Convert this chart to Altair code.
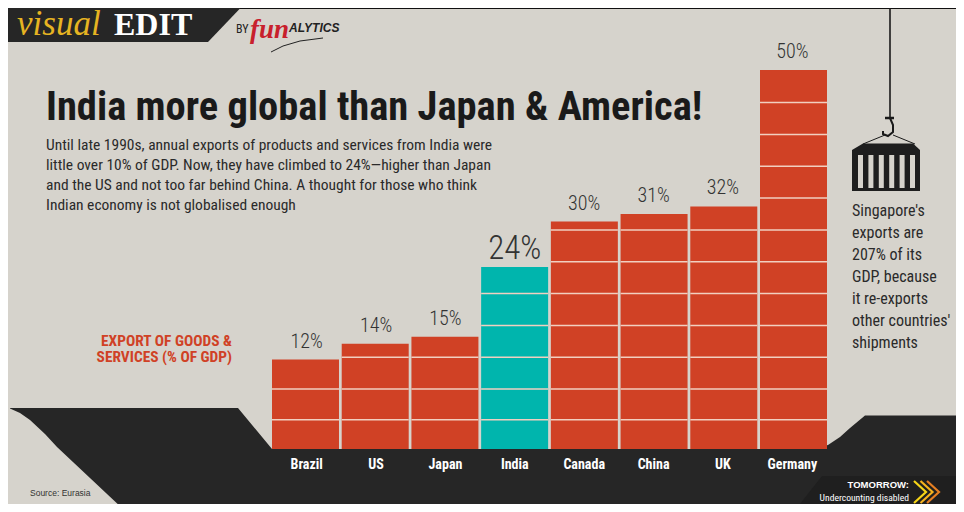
import altair as alt
import pandas as pd

categories = ["Brazil", "US", "Japan", "India", "Canada", "China", "UK", "Germany"]
values = [11.8, 13.9, 14.8, 24, 30, 31, 32, 50]
labels = ["12%", "14%", "15%", "24%", "30%", "31%", "32%", "50%"]
grid_levels = [3.85, 7.9, 12.1, 16.3, 20.5, 24.7, 28.9, 33.1, 37.3, 41.5, 45.7]

BG, DARK, RED, TEAL = "#d6d3cc", "#262626", "#d04125", "#00b5ad"
NARROW = "Roboto Condensed"

def P(x):
    return x - 8

def area(points, color):
    df = pd.DataFrame([{"x": P(a), "t": P(b), "b": P(c)} for a, b, c in points])
    return alt.Chart(df).mark_area(color=color, opacity=1, interpolate="linear").encode(
        x=alt.X("x:Q", scale=None, axis=None),
        y=alt.Y("t:Q", scale=None, axis=None),
        y2="b:Q",
    )

def line(points, color, w=1.5):
    df = pd.DataFrame([{"x": P(a), "y": P(b), "i": i} for i, (a, b) in enumerate(points)])
    return alt.Chart(df).mark_line(color=color, strokeWidth=w).encode(
        x=alt.X("x:Q", scale=None, axis=None),
        y=alt.Y("y:Q", scale=None, axis=None),
        order="i:Q",
    )

def text(s, x, y, size, color="#1a1a1a", font=NARROW, weight="normal", style="normal", align="left"):
    df = pd.DataFrame([{"x": P(x), "y": P(y), "s": s}])
    return alt.Chart(df).mark_text(
        fontSize=size, color=color, font=font, fontWeight=weight, fontStyle=style,
        align=align, baseline="alphabetic",
    ).encode(
        x=alt.X("x:Q", scale=None, axis=None),
        y=alt.Y("y:Q", scale=None, axis=None),
        text="s:N",
    )

layers = []
layers.append(area([(8, 8, 9), (964, 8, 9)], "#111111"))
layers.append(area([(8, 8, 42), (208, 8, 42), (240, 8, 8.5)], DARK))
layers.append(area([
    (10, 408, 408.5), (20, 408, 413), (30, 408, 420), (45, 408, 434), (57, 408, 447), (123, 408, 509), (238, 408, 509),
    (272, 449, 509), (800, 449, 509), (815, 448, 509), (828, 445, 509), (840, 437, 509), (850, 428, 509),
    (865, 415.5, 509), (964, 415.5, 509)], DARK))
layers.append(area([(796, 509, 509.5), (822, 476, 509), (964, 476, 509)], "#1f1f1f"))

# crane
layers.append(line([(890, 8), (890, 118)], "#1a1a1a", 1.6))
layers.append(line([(885, 118), (894, 118)], "#1a1a1a", 2.5))
layers.append(line([(890, 118), (893, 125), (893, 132), (888, 136), (883, 134), (883, 131)], "#1a1a1a", 2))
layers.append(line([(863, 144), (885, 135)], "#1a1a1a", 1))
layers.append(line([(893, 135), (915, 144)], "#1a1a1a", 1))
layers.append(area([(852, 150, 191), (863, 143.5, 191), (913, 143.5, 191), (920, 150, 191)], "#1e1e1e"))
for sx in [858, 868.4, 878.8, 889.2, 899.6, 910]:
    layers.append(area([(sx, 155, 188), (sx + 5, 155, 188)], BG))

# header text
layers.append(text("visual", 17, 35, 35, "#e6b422", "Liberation Serif", style="italic"))
layers.append(text("EDIT", 114, 35, 32, "#ffffff", "Liberation Serif", weight="bold"))
layers.append(text("BY", 236, 33, 12, "#222222"))
layers.append(text("fun", 250, 38, 27, "#c8202c", "Liberation Serif", style="italic", weight="bold"))
layers.append(text("ALYTICS", 289, 32, 12, "#222222", "Liberation Sans", weight="bold", style="italic"))
layers.append(line([(271, 52), (283, 46), (300, 41), (323, 38)], "#222222", 1))

layers.append(text("India more global than Japan & America!", 46, 120, 40.5, "#1a1a1a", weight="bold"))
for s, y in [
    ("Until late 1990s, annual exports of products and services from India were", 150),
    ("little over 10% of GDP. Now, they have climbed to 24%\u2014higher than Japan", 170),
    ("and the US and not too far behind China. A thought for those who think", 190),
    ("Indian economy is not globalised enough", 210),
]:
    layers.append(text(s, 46, y, 15.5, "#2a2a2a"))
layers.append(text("EXPORT OF GOODS &", 232, 346, 15.4, RED, weight="bold", align="right"))
layers.append(text("SERVICES (% OF GDP)", 232, 362, 15.4, RED, weight="bold", align="right"))
for s, y in [("Singapore's", 216), ("exports are", 238), ("207% of its", 260), ("GDP, because", 282),
             ("it re-exports", 304), ("other countries'", 326), ("shipments", 348)]:
    layers.append(text(s, 852, y, 16, "#2a2a2a"))
layers.append(text("Source: Eurasia", 30, 496, 8.5, "#333333", "Liberation Sans"))
layers.append(text("TOMORROW:", 909, 488, 9.5, "#ffffff", "Liberation Sans", weight="bold", align="right"))
layers.append(text("Undercounting disabled", 909, 501, 9.6, "#ffffff", align="right"))
for dx, c in [(13, "#e57f22"), (6.5, "#f5b21e"), (0, "#f6d517")]:
    layers.append(line([(914 + dx, 481), (926 + dx, 492), (914 + dx, 503)], c, 2.2))

# data
PH, PW = 496, 948
y_scale = alt.Scale(domain=[-7.256, 58.18], range=[PH, 0], nice=False, zero=False)
x_scale = alt.Scale(domain=categories, range=[P(272), P(827)], paddingInner=0.039, paddingOuter=0)
X = alt.X("cat:N", scale=x_scale, axis=None, sort=categories)

data = pd.DataFrame({"cat": categories, "val": values, "label": labels, "india": [c == "India" for c in categories]})
layers.append(alt.Chart(data).mark_bar().encode(
    x=X,
    y=alt.Y("val:Q", scale=y_scale, axis=None),
    y2=alt.datum(0),
    color=alt.Color("india:N", scale=alt.Scale(domain=[False, True], range=[RED, TEAL]), legend=None),
))
gridrows = [{"cat": c, "g": g} for c, v in zip(categories, values) for g in grid_levels if g < v]
layers.append(alt.Chart(pd.DataFrame(gridrows)).mark_tick(orient="horizontal", size=67, thickness=1.5, color="#f1cfc0", opacity=1).encode(
    x=X, y=alt.Y("g:Q", scale=y_scale, axis=None),
))
normal = data[data.cat != "India"]
india = data[data.cat == "India"]
layers.append(alt.Chart(normal).mark_text(font=NARROW, fontSize=20, fontWeight=300, color="#333333", baseline="alphabetic", dy=-12).encode(
    x=X, y=alt.Y("val:Q", scale=y_scale, axis=None), text="label:N"))
layers.append(alt.Chart(india).mark_text(font=NARROW, fontSize=33, fontWeight=300, color="#333333", baseline="alphabetic", dy=-8).encode(
    x=X, y=alt.Y("val:Q", scale=y_scale, axis=None), text="label:N"))
layers.append(alt.Chart(data).mark_text(font=NARROW, fontSize=14, fontWeight="bold", color="#ffffff", baseline="alphabetic").encode(
    x=X, y=alt.value(P(469)), text="cat:N"))

chart = alt.layer(*layers).resolve_scale(x="independent", y="independent", color="independent").properties(
    width=PW, height=PH, padding=0, background="#ffffff",
    autosize=alt.AutoSizeParams(type="none"),
).configure_view(stroke=None, fill=BG)

chart.save("out.html", embed_options={"renderer": "svg", "actions": False})
